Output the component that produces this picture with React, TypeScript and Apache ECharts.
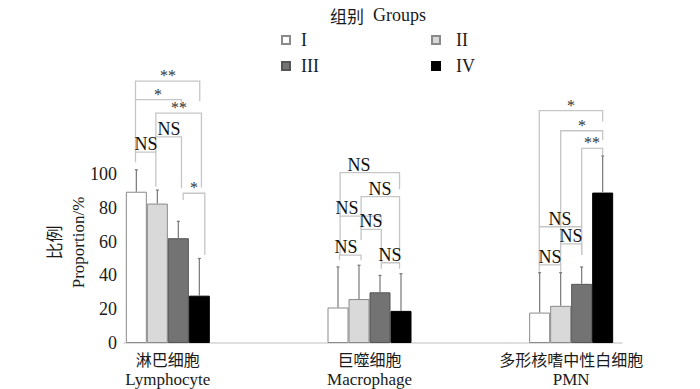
import React, { useEffect, useRef } from 'react';
import * as echarts from 'echarts';

// ---------- data ----------
const categoriesCn = ['淋巴细胞', '巨噬细胞', '多形核嗜中性白细胞'];
const categoriesEn = ['Lymphocyte', 'Macrophage', 'PMN'];
const groupNames = ['I', 'II', 'III', 'IV'];
const groupI = [89.5, 21, 18];
const groupII = [82.5, 26, 22];
const groupIII = [62, 30, 35];
const groupIV = [28, 19, 89];
// upper end of the error bars
const errI = [102.5, 45, 41.6];
const errII = [90.5, 46, 41.6];
const errIII = [72, 40, 45];
const errIV = [50, 41, 110.7];
const yTicks = [0, 20, 40, 60, 80, 100];

// significance brackets: [category, left slot, right slot, bracket height, left leg end, right leg end, label, label slot]
// slots are in bar widths from the left edge of the group (bar k centre = k + 0.5)
const lymphBrackets: any[] = [
  [0, 0.46, 3.52, 155, 144, 143, '**', null],
  [0, 0.46, 2.65, 144, 113, 140, '*', null],
  [0, 1.43, 3.6, 136, 122, 92, '**', null],
  [0, 1.43, 2.65, 122, 113, 91.5, 'NS', null],
  [0, 0.46, 1.43, 113, 107, 92.5, 'NS', null],
  [0, 2.73, 3.76, 88.6, 84.6, 52, '*', null],
];
const macroBrackets: any[] = [
  [1, 0.6, 3.43, 100.8, 75, 91, 'NS', 1.52],
  [1, 1.6, 3.43, 86.6, 67, 49, 'NS', null],
  [1, 0.6, 2.56, 75.1, 52, 71, 'NS', 0.95],
  [1, 1.6, 2.56, 67.2, 61, 48, 'NS', null],
  [1, 0.57, 1.6, 52, 49, 49, 'NS', 0.89],
  [1, 2.56, 3.43, 47.5, 44, 44, 'NS', null],
];
const pmnBrackets: any[] = [
  [2, 0.48, 3.5, 137.5, 68.8, 131, '*', null],
  [2, 1.5, 3.5, 125.6, 58.6, 120, '*', null],
  [2, 2.5, 3.5, 115.2, 68.8, 111, '**', null],
  [2, 0.48, 2.5, 68.8, 46.2, 52, 'NS', null],
  [2, 1.5, 2.5, 58.6, 46.2, 52, 'NS', null],
  [2, 0.48, 1.5, 46.2, 42.2, 42.2, 'NS', null],
];

// ---------- style ----------
const SERIF = '"Liberation Serif", "Times New Roman", serif';
const CJK = '"Noto Sans CJK SC", sans-serif';
const BAR_W = 21;
const TEXT = '#1a1a1a';
const fills = ['#ffffff', '#d9d9d9', '#737373', '#000000'];
const borders = ['#8a8a8a', '#8a8a8a', '#555555', '#000000'];

export default function App() {
  const ref = useRef<HTMLDivElement>(null);

  useEffect(() => {
    const chart = echarts.init(ref.current as HTMLDivElement, null, { renderer: 'svg' });
    const means = [groupI, groupII, groupIII, groupIV];
    const errs = [errI, errII, errIII, errIV];
    const brackets = [...lymphBrackets, ...macroBrackets, ...pmnBrackets];

    const errData: number[][] = [];
    means.forEach((m, s) => m.forEach((v, c) => errData.push([c, v, errs[s][c], s])));

    const barSeries = means.map((m, s) => ({
      name: groupNames[s],
      type: 'bar',
      xAxisIndex: 0,
      yAxisIndex: 0,
      data: m,
      barWidth: BAR_W,
      barGap: '0%',
      itemStyle: { color: fills[s], borderColor: borders[s], borderWidth: 1 },
      silent: true,
    }));

    const legendBase = {
      orient: 'vertical',
      top: 31,
      padding: 0,
      itemWidth: 8,
      itemHeight: 8,
      itemGap: 8,
      icon: 'rect',
    };

    const option: any = {
      animation: false,
      backgroundColor: '#ffffff',
      title: {
        text: '{cn|组别}{en|  Groups}',
        left: 330,
        top: 6,
        padding: 0,
        textStyle: {
          fontWeight: 'normal',
          rich: {
            cn: { fontFamily: CJK, fontSize: 17, fontWeight: 'normal', color: TEXT },
            en: { fontFamily: SERIF, fontSize: 18, fontWeight: 'normal', color: TEXT },
          },
        },
      },
      legend: [
        {
          ...legendBase,
          data: [groupNames[0], groupNames[2]],
          left: 281,
          textStyle: { fontFamily: SERIF, fontSize: 18, color: TEXT, padding: [0, 0, 0, 6] },
        },
        {
          ...legendBase,
          data: [groupNames[1], groupNames[3]],
          left: 431,
          textStyle: { fontFamily: SERIF, fontSize: 18, color: TEXT, padding: [0, 0, 0, 11] },
        },
      ],
      grid: [
        { left: 67, right: 28, top: 174, bottom: 46 },
        { left: 124, right: 78, top: 174, bottom: 46 },
      ],
      xAxis: [
        {
          type: 'category',
          gridIndex: 0,
          data: categoriesCn.map((c, i) => `{cn|${c}}\n{en|${categoriesEn[i]}}`),
          axisLine: { show: false },
          axisTick: { show: false },
          axisLabel: {
            margin: 5,
            interval: 0,
            rich: {
              cn: { fontFamily: CJK, fontSize: 16, lineHeight: 21, color: TEXT },
              en: { fontFamily: SERIF, fontSize: 17, lineHeight: 21, color: TEXT },
            },
          },
        },
        {
          type: 'value',
          gridIndex: 1,
          min: 0,
          max: 1,
          axisLine: { show: true, lineStyle: { color: '#d4d4d4', width: 1.5 } },
          axisTick: { show: false },
          axisLabel: { show: false },
          splitLine: { show: false },
        },
      ],
      yAxis: [
        {
          type: 'value',
          gridIndex: 0,
          min: 0,
          max: 100,
          interval: 20,
          show: false,
        },
        {
          type: 'value',
          gridIndex: 1,
          min: yTicks[0],
          max: yTicks[yTicks.length - 1],
          interval: yTicks[1] - yTicks[0],
          axisLine: { show: false },
          axisTick: { show: false },
          splitLine: { show: false },
          axisLabel: { margin: 7, fontFamily: SERIF, fontSize: 18, color: TEXT },
          name: '{cn|比例}\n{en|Proportion/%}',
          nameLocation: 'middle',
          nameRotate: 90,
          nameGap: 33,
          nameMoveOverlap: false,
          nameTextStyle: {
            padding: [0, 0, 0, 32],
            rich: {
              cn: { fontFamily: CJK, fontSize: 17, lineHeight: 25, color: TEXT },
              en: { fontFamily: SERIF, fontSize: 17, lineHeight: 25, color: TEXT },
            },
          },
        },
      ],
      series: [
        ...barSeries,
        {
          type: 'custom',
          name: 'err',
          xAxisIndex: 0,
          yAxisIndex: 0,
          silent: true,
          clip: false,
          z: 3,
          encode: { x: 0, y: 2 },
          data: errData,
          renderItem: (params: any, api: any) => {
            const c = api.value(0);
            const s = api.value(3);
            const base = api.coord([c, api.value(1)]);
            const top = api.coord([c, api.value(2)]);
            const x = base[0] + (s - 1.5) * BAR_W;
            return {
              type: 'group',
              children: [
                {
                  type: 'line',
                  shape: { x1: x, y1: base[1], x2: x, y2: top[1] },
                  style: { stroke: '#777777', lineWidth: 1.2 },
                },
                {
                  type: 'line',
                  shape: { x1: x - 1.5, y1: top[1], x2: x + 1.5, y2: top[1] },
                  style: { stroke: '#777777', lineWidth: 1.2 },
                },
              ],
            };
          },
        },
        {
          type: 'custom',
          name: 'brackets',
          xAxisIndex: 0,
          yAxisIndex: 0,
          silent: true,
          clip: false,
          z: 4,
          encode: { x: 0, y: 1 },
          data: brackets.map((b) => [b[0], b[3]]),
          renderItem: (params: any, api: any) => {
            const b = brackets[params.dataIndex];
            const centre = api.coord([b[0], 0])[0];
            const sx = (p: number) => centre + (p - 2) * BAR_W;
            const yH = api.coord([b[0], b[3]])[1];
            const yL = api.coord([b[0], b[4]])[1];
            const yR = api.coord([b[0], b[5]])[1];
            const xl = sx(b[1]);
            const xr = sx(b[2]);
            const lx = b[7] != null ? sx(b[7]) : (xl + xr) / 2;
            const isStar = String(b[6]).indexOf('*') >= 0;
            return {
              type: 'group',
              children: [
                {
                  type: 'polyline',
                  shape: { points: [[xl, yL], [xl, yH], [xr, yH], [xr, yR]] },
                  style: { stroke: '#c6c6c6', lineWidth: 1.3, fill: null },
                },
                {
                  type: 'text',
                  x: Math.round(lx),
                  y: Math.round(isStar ? yH + 2 : yH + 1),
                  rotation: 0.0005,
                  style: {
                    text: b[6],
                    fill: isStar ? '#333333' : '#111111',
                    fontFamily: SERIF,
                    fontSize: isStar ? 16 : 18,
                    fontWeight: 'normal',
                    align: 'center',
                    verticalAlign: 'bottom',
                  },
                },
              ],
            };
          },
        },
      ],
    };

    chart.setOption(option);
    return () => chart.dispose();
  }, []);

  return (
    <div
      ref={ref}
      style={{ position: 'fixed', left: 0, top: 0, width: 700, height: 389, background: '#fff' }}
    />
  );
}
